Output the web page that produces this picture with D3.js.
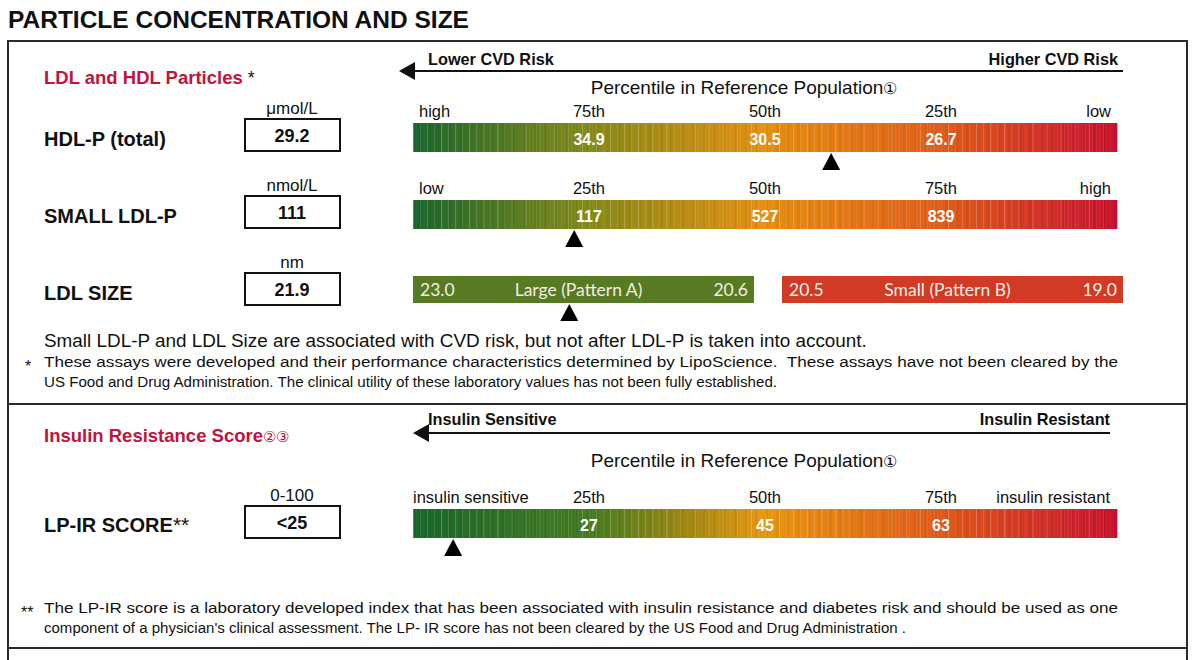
<!DOCTYPE html>
<html><head><meta charset="utf-8">
<script src="https://cdn.jsdelivr.net/npm/d3@7"></script>
<style>
body{margin:0;background:#fff}
svg{display:block}
text{font-family:"Liberation Sans",Arial,Helvetica,sans-serif;fill:#111}
</style>
</head><body>
<svg id="chart" width="1200" height="660"></svg>
<script>
// ---------------- DATA ----------------
const pageTitle = "PARTICLE CONCENTRATION AND SIZE";
const sectionTitles = ["LDL and HDL Particles", "Insulin Resistance Score"];
const sectionMarks = [" *", "②③"];
const riskLabels = [["Lower CVD Risk", "Higher CVD Risk"], ["Insulin Sensitive", "Insulin Resistant"]];
const percentileCaption = "Percentile in Reference Population";
const rowLabels = ["HDL-P (total)", "SMALL LDL-P", "LDL SIZE", "LP-IR SCORE"];
const rowSuffix = ["", "", "", "**"];
const units = ["μmol/L", "nmol/L", "nm", "0-100"];
const results = ["29.2", "111", "21.9", "<25"];
const tickPercent = [25, 50, 75];
const hdlTicks = ["75th", "50th", "25th"];
const hdlEnds = ["high", "low"];
const hdlCutoffs = ["34.9", "30.5", "26.7"];
const smallLdlTicks = ["25th", "50th", "75th"];
const smallLdlEnds = ["low", "high"];
const smallLdlCutoffs = ["117", "527", "839"];
const lpirTicks = ["25th", "50th", "75th"];
const lpirEnds = ["insulin sensitive", "insulin resistant"];
const lpirCutoffs = ["27", "45", "63"];
const markerPercent = [59.4, 22.9, 5.7];          // HDL-P, Small LDL-P, LP-IR (position along bar, %)
const ldlSizeBreaks = [23.0, 20.6, 20.5, 19.0];
const ldlSizePatterns = ["Large (Pattern A)", "Small (Pattern B)"];
const ldlSizeValue = 21.9;
const noteText = "Small LDL-P and LDL Size are associated with CVD risk, but not after LDL-P is taken into account.";
const footA = ["These assays were developed and their performance characteristics determined by LipoScience.  These assays have not been cleared by the",
               "US Food and Drug Administration. The clinical utility of these laboratory values has not been fully established."];
const footB = ["The LP-IR score is a laboratory developed index that has been associated with insulin resistance and diabetes risk and should be used as one",
               "component of a physician's clinical assessment. The LP- IR score has not been cleared by the US Food and Drug Administration ."];

// ---------------- LAYOUT ----------------
const svg = d3.select("#chart");
const barX0 = 413, barX1 = 1117, barH = 29;
const x = d3.scaleLinear().domain([0, 100]).range([barX0, barX1]);
const xSize = d3.scaleLinear().domain(ldlSizeBreaks).range([413, 754, 782, 1123]);

const gradStd = d3.scaleLinear().domain([0, 0.25, 0.5, 0.75, 1])
  .range(["#1a672d", "#858a18", "#e6900f", "#e15d19", "#c8102f"]);
const gradLpir = d3.scaleLinear().domain([0, 0.25, 0.4, 0.5, 0.75, 1])
  .range(["#1a672d", "#447b20", "#a88a12", "#e9980f", "#e05a1a", "#c8102f"]);

const FRAME = "#2a2a2a";

// title
svg.append("text").attr("x", 8).attr("y", 28).text(pageTitle)
  .style("font-size", "24.5px").style("font-weight", "bold");

// frame
svg.append("path").attr("fill", "none").attr("stroke", FRAME).attr("stroke-width", 2)
  .attr("d", "M8,665 V41 H1187 V665");
svg.append("line").attr("x1", 8).attr("x2", 1187).attr("y1", 404).attr("y2", 404)
  .attr("stroke", FRAME).attr("stroke-width", 2);
svg.append("line").attr("x1", 8).attr("x2", 1187).attr("y1", 648).attr("y2", 648)
  .attr("stroke", FRAME).attr("stroke-width", 2);

// section titles
const secY = [84, 442];
sectionTitles.forEach((t, i) => {
  const tx = svg.append("text").attr("x", 44).attr("y", secY[i])
    .style("font-size", "18.5px").style("font-weight", "bold");
  tx.append("tspan").text(t).style("fill", "#c0143c");
  tx.append("tspan").text(sectionMarks[i])
    .style("fill", i === 0 ? "#111" : "#c0143c").style("font-weight", "normal")
    .style("font-size", i === 0 ? "18px" : "15px");
});

// risk arrows
const arrows = [{tip: 399, end: 1123, y: 71, ty: 65}, {tip: 413, end: 1110, y: 433, ty: 425}];
arrows.forEach((a, i) => {
  svg.append("line").attr("x1", a.tip + 10).attr("x2", a.end).attr("y1", a.y).attr("y2", a.y)
    .attr("stroke", "#111").attr("stroke-width", 2);
  svg.append("path").attr("fill", "#111")
    .attr("d", `M${a.tip},${a.y} L${a.tip + 16},${a.y - 9} L${a.tip + 16},${a.y + 9} Z`);
  svg.append("text").attr("x", 428).attr("y", a.ty).text(riskLabels[i][0])
    .style("font-size", "16.3px").style("font-weight", "bold");
  svg.append("text").attr("x", i === 0 ? 1118 : 1110).attr("y", a.ty).attr("text-anchor", "end")
    .text(riskLabels[i][1]).style("font-size", "16.3px").style("font-weight", "bold");
});

// percentile captions
[94, 467].forEach(y => {
  const t = svg.append("text").attr("x", 744).attr("y", y).attr("text-anchor", "middle")
    .style("font-size", "19px");
  t.append("tspan").text(percentileCaption);
  t.append("tspan").text("①").style("font-size", "16px");
});

// row labels, units, result boxes
const rowY = [146, 223, 300, 532];
const boxTop = [119, 196, 273, 506];
rowLabels.forEach((r, i) => {
  const t = svg.append("text").attr("x", 44).attr("y", rowY[i])
    .style("font-size", "20px").style("font-weight", "bold");
  t.append("tspan").text(r);
  if (rowSuffix[i]) t.append("tspan").text(rowSuffix[i]).style("font-weight", "normal").style("font-size", "21px");
  svg.append("text").attr("x", 292).attr("y", boxTop[i] - 5).attr("text-anchor", "middle")
    .text(units[i]).style("font-size", "17px");
  svg.append("rect").attr("x", 245).attr("y", boxTop[i]).attr("width", 95).attr("height", 32)
    .attr("fill", "#fff").attr("stroke", "#111").attr("stroke-width", 2);
  svg.append("text").attr("x", 292).attr("y", boxTop[i] + 23).attr("text-anchor", "middle")
    .text(results[i]).style("font-size", "18px").style("font-weight", "bold");
});

// gradient percentile bars
const gradRows = [
  {top: 123, ticks: hdlTicks, ends: hdlEnds, cut: hdlCutoffs, grad: gradStd, marker: markerPercent[0]},
  {top: 200, ticks: smallLdlTicks, ends: smallLdlEnds, cut: smallLdlCutoffs, grad: gradStd, marker: markerPercent[1]},
  {top: 509, ticks: lpirTicks, ends: lpirEnds, cut: lpirCutoffs, grad: gradLpir, marker: markerPercent[2]}
];
const sliceStep = 0.5; // percent per slice
const slices = d3.range(0, 100, sliceStep);
gradRows.forEach((g, gi) => {
  const grp = svg.append("g");
  grp.selectAll("rect").data(slices).join("rect")
    .attr("x", d => x(d)).attr("y", g.top)
    .attr("width", d => x(Math.min(d + sliceStep, 100)) - x(d) + 0.4).attr("height", barH)
    .attr("fill", (d, i) => {
      const c = d3.color(g.grad((d + sliceStep / 2) / 100));
      return (i % 3 === 1) ? c.darker(0.12) : c;
    });
  // fine light stripes
  grp.selectAll("line").data(slices.filter((d, i) => i % 2 === 0)).join("line")
    .attr("x1", d => x(d) + 0.5).attr("x2", d => x(d) + 0.5)
    .attr("y1", g.top).attr("y2", g.top + barH)
    .attr("stroke", "#fff").attr("stroke-opacity", (d, i) => [0.22, 0.1, 0.16, 0.06][i % 4])
    .attr("stroke-width", 1);
  // end labels
  const ly = g.top - 6;
  svg.append("text").attr("x", gi === 2 ? barX0 : barX0 + 6).attr("y", ly).text(g.ends[0]).style("font-size", "16.5px");
  svg.append("text").attr("x", gi === 2 ? 1110 : 1111).attr("y", ly).attr("text-anchor", "end")
    .text(g.ends[1]).style("font-size", "16.5px");
  // percentile labels
  svg.selectAll(null).data(tickPercent).join("text")
    .attr("x", d => x(d)).attr("y", ly).attr("text-anchor", "middle")
    .text((d, i) => g.ticks[i]).style("font-size", "16.5px");
  // cutoff values
  svg.selectAll(null).data(tickPercent).join("text")
    .attr("x", d => x(d)).attr("y", g.top + 22).attr("text-anchor", "middle")
    .text((d, i) => g.cut[i])
    .style("font-size", "16px").style("font-weight", "bold").style("fill", "#fff");
  // marker
  const mx = x(g.marker), my = g.top + barH + 1;
  svg.append("path").attr("fill", "#000")
    .attr("d", `M${mx},${my} L${mx + 9},${my + 17} L${mx - 9},${my + 17} Z`);
});

// LDL size bars
const sizeTop = 276, sizeH = 27;
const sizeSegs = [
  {a: ldlSizeBreaks[0], b: ldlSizeBreaks[1], fill: "#587a22", label: ldlSizePatterns[0]},
  {a: ldlSizeBreaks[2], b: ldlSizeBreaks[3], fill: "#d13a24", label: ldlSizePatterns[1]}
];
sizeSegs.forEach(s => {
  svg.append("rect").attr("x", xSize(s.a)).attr("y", sizeTop).attr("width", xSize(s.b) - xSize(s.a))
    .attr("height", sizeH).attr("fill", s.fill);
  const st = {"font-family": "Lato, 'Open Sans', sans-serif", "font-size": "17.5px", "fill": "#f3efe2"};
  const t1 = svg.append("text").attr("x", xSize(s.a) + 7).attr("y", sizeTop + 20).text(s.a.toFixed(1));
  const t2 = svg.append("text").attr("x", xSize(s.b) - 6).attr("y", sizeTop + 20).attr("text-anchor", "end").text(s.b.toFixed(1));
  const t3 = svg.append("text").attr("x", (xSize(s.a) + xSize(s.b)) / 2 - 5).attr("y", sizeTop + 20).attr("text-anchor", "middle").text(s.label);
  [t1, t2, t3].forEach(t => Object.entries(st).forEach(([k, v]) => t.style(k, v)));
});
{
  const mx = xSize(ldlSizeValue), my = sizeTop + sizeH + 1;
  svg.append("path").attr("fill", "#000")
    .attr("d", `M${mx},${my} L${mx + 9},${my + 17} L${mx - 9},${my + 17} Z`);
}

// note
svg.append("text").attr("x", 44).attr("y", 347).text(noteText).style("font-size", "18.9px");

// footnotes
function footnote(lines, mark, markX, y0, widths) {
  svg.append("text").attr("x", markX).attr("y", y0 + 5).text(mark).style("font-size", "16px");
  lines.forEach((l, i) => {
    svg.append("text").attr("x", 44).attr("y", y0 + i * 20).text(l)
      .attr("textLength", widths[i]).attr("lengthAdjust", "spacingAndGlyphs")
      .style("white-space", "pre")
      .style("font-size", "14px");
  });
}
footnote(footA, "*", 25, 367, [1074, 733]);
footnote(footB, "**", 21, 613, [1074, 862]);
</script>
</body></html>
